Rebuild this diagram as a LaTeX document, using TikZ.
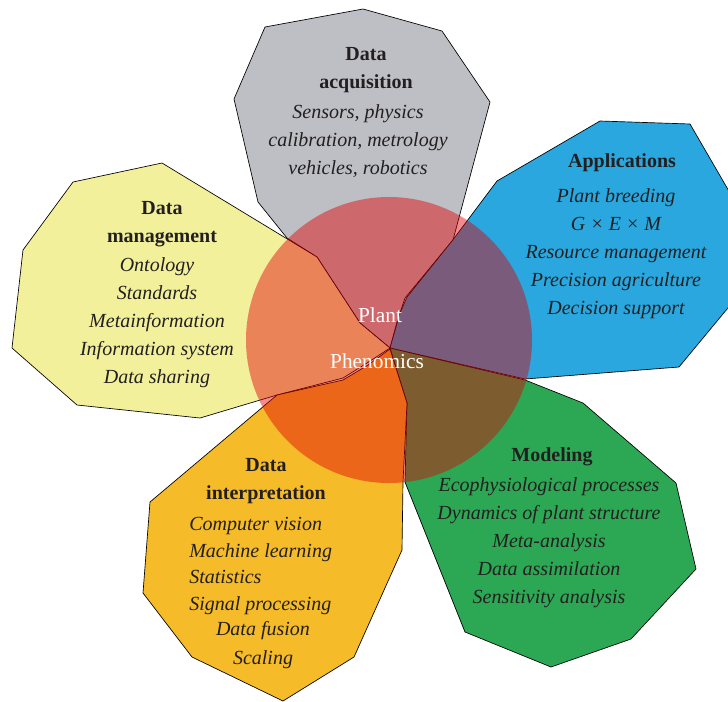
\documentclass[tikz,border=0pt]{standalone}
\usepackage{fontspec}
\setmainfont{Liberation Serif}
\definecolor{acqgray}{RGB}{190,191,196}
\definecolor{appblue}{RGB}{41,167,222}
\definecolor{mgmtyellow}{RGB}{243,240,155}
\definecolor{interporange}{RGB}{245,187,40}
\definecolor{modgreen}{RGB}{44,168,84}
\definecolor{phenored}{RGB}{225,0,5}
\definecolor{ink}{RGB}{35,31,32}
\begin{document}
\begin{tikzpicture}[x=0.75pt,y=-0.75pt,
    petal/.style={draw=black,line width=0.5pt,line join=miter},
    title/.style={font=\fontsize{15}{21.5}\selectfont\bfseries,text=ink,align=center,inner sep=0pt},
    items/.style={font=\fontsize{15}{21}\selectfont\itshape,text=ink,align=center,inner sep=0pt}]
        \useasboundingbox (0,0) rectangle (728,701);

        \begin{scope}
        \clip (0,0) rectangle (728,701);
        % Data acquisition
        \filldraw[petal,fill=acqgray] (390,348) -- (360,323) -- (317,257) -- (287,238) -- (258,202)
            -- (234,99) -- (265,27) -- (363,9) -- (442,31) -- (490,102) -- (453,240)
            -- (405,298) -- (397,322) -- cycle;

        % Data management
        \filldraw[petal,fill=mgmtyellow] (390,348) -- (360,323) -- (317,257) -- (162,163) -- (73,182)
            -- (23,250) -- (12,348) -- (77,405) -- (200,418) -- (277,395) -- (343,378) -- (367,363) -- cycle;

        % Applications
        \filldraw[petal,fill=appblue] (390,348) -- (400,313) -- (407,297) -- (452,241) -- (497,181)
            -- (600,121) -- (690,124) -- (737,205) -- (737,297) -- (679,367) -- (525,379) -- cycle;

        % Modeling
        \filldraw[petal,fill=modgreen] (390,348) -- (525,380) -- (583,403) -- (676,483) -- (696,569)
            -- (631,639) -- (551,667) -- (465,632) -- (405,482) -- (407,403) -- cycle;

        % Data interpretation
        \filldraw[petal,fill=interporange] (390,349) -- (407,403) -- (403,482) -- (402,550) -- (354,657)
            -- (283,701) -- (192,657) -- (143,593) -- (150,502) -- (277,395) -- (343,380) -- (368,365) -- cycle;

        % Plant Phenomics disc
        \fill[phenored,opacity=0.45] (389,340) circle[radius=143];
        \end{scope}

        \node[font=\fontsize{16}{18}\selectfont,text=white] (plant) at (380,315) {Plant};
        \node[font=\fontsize{16}{18}\selectfont,text=white] (phenomics) at (377,361) {Phenomics};

        % texts of the petals
        \node[title] (acqtitle) at (366,70) {Data\\acquisition};
        \node[items] (acqitems) at (358,141) {Sensors, physics\\calibration, metrology\\vehicles, robotics};

        \node[title] (apptitle) at (622,163) {Applications};
        \node[items] (appitems) at (616,254) {Plant breeding\\G × E × M\\Resource management\\Precision agriculture\\Decision support};

        \node[title] (mgmttitle) at (162,224) {Data\\management};
        \node[items] (mgmtitems) at (157,323) {Ontology\\Standards\\Metainformation\\Information system\\Data sharing};

        \node[title] (interptitle) at (266,481) {Data\\interpretation};
        \node[items,align=left,anchor=west,font=\fontsize{15}{20}\selectfont\itshape] (interpitems) at (189,566)
            {Computer vision\\Machine learning\\Statistics\\Signal processing};
        \node[items,font=\fontsize{15}{21.75}\selectfont\itshape] (interpmore) at (263,645) {Data fusion\\Scaling};

        \node[title] (modtitle) at (552,457) {Modeling};
        \node[items] (moditems) at (549,543) {Ecophysiological processes\\Dynamics of plant structure\\Meta-analysis\\Data assimilation\\Sensitivity analysis};

\end{tikzpicture}
\end{document}
